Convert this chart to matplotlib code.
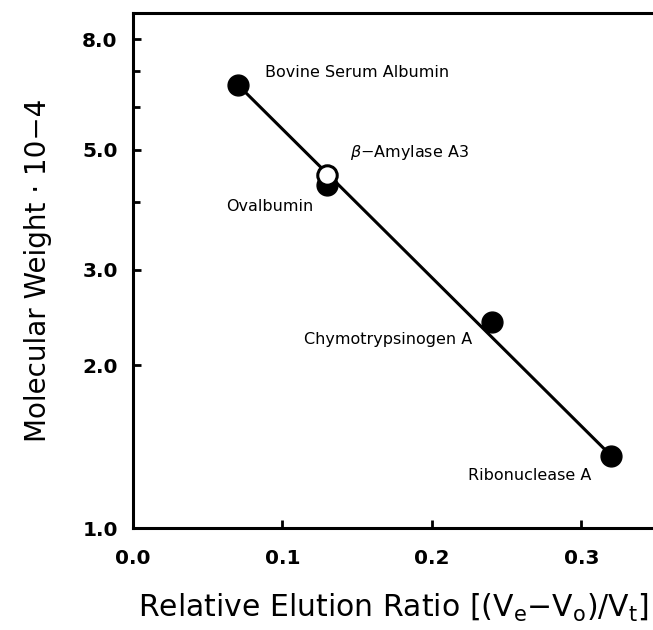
import matplotlib
matplotlib.use('Agg')
import matplotlib.pyplot as plt
from matplotlib.ticker import FixedLocator, NullFormatter

# calibration proteins
names = ['Bovine Serum Albumin', 'Ovalbumin', 'Chymotrypsinogen A', 'Ribonuclease A']
ratio = [0.07, 0.13, 0.24, 0.32]
mw = [6.6, 4.3, 2.4, 1.36]

# unknown
unk_name = r'$\beta$−Amylase A3'
unk_ratio = [0.13]
unk_mw = [4.5]

yticks = [1.0, 2.0, 3.0, 5.0, 8.0]
yminor = [4.0, 6.0, 7.0]
xticks = [0.0, 0.1, 0.2, 0.3]

fig = plt.figure(figsize=(6.53, 6.30), dpi=100)
ax = fig.add_axes([0.2037, 0.1619, 0.7963, 0.8175])

# standard curve through first and last standards
ax.plot([ratio[0], ratio[-1]], [mw[0], mw[-1]], color='black', lw=2.2, zorder=2)
ax.plot(ratio, mw, 'o', color='black', ms=15, zorder=3)
ax.plot(unk_ratio, unk_mw, 'o', mfc='white', mec='black', mew=2.2, ms=14, zorder=4)

# labels
fs = 11.5
ax.text(0.0883, 6.96, names[0], fontsize=fs, va='center', ha='left')
ax.text(0.1204, 3.92, names[1], fontsize=fs, va='center', ha='right')
ax.text(0.2268, 2.23, names[2], fontsize=fs, va='center', ha='right')
ax.text(0.307, 1.25, names[3], fontsize=fs, va='center', ha='right')
ax.text(0.145, 4.95, unk_name, fontsize=fs, va='center', ha='left')

ax.set_yscale('log')
ax.set_ylim(1.0, 8.95)
ax.set_xlim(0.0, 0.348)

ax.yaxis.set_major_locator(FixedLocator(yticks))
ax.yaxis.set_minor_locator(FixedLocator(yminor))
ax.yaxis.set_minor_formatter(NullFormatter())
ax.set_yticklabels(['%.1f' % v for v in yticks], fontsize=14.5, fontweight='bold')
ax.set_xticks(xticks)
ax.set_xticklabels(['%.1f' % v for v in xticks], fontsize=14.5, fontweight='bold')

ax.tick_params(axis='both', which='major', direction='in', length=6, width=2, pad=11)
ax.tick_params(axis='y', which='minor', direction='in', length=5, width=2)
ax.tick_params(axis='x', which='major', pad=15)

for s in ['left', 'bottom', 'top']:
    ax.spines[s].set_linewidth(2.2)
ax.spines['right'].set_visible(False)

ax.set_ylabel('Molecular Weight · 10−4', fontsize=20, labelpad=22)
ax.set_xlabel(r'Relative Elution Ratio [(V$_\mathregular{e}$−V$_\mathregular{o}$)/V$_\mathregular{t}$]',
              fontsize=21.5, labelpad=17)

fig.savefig('out.png', dpi=100)
